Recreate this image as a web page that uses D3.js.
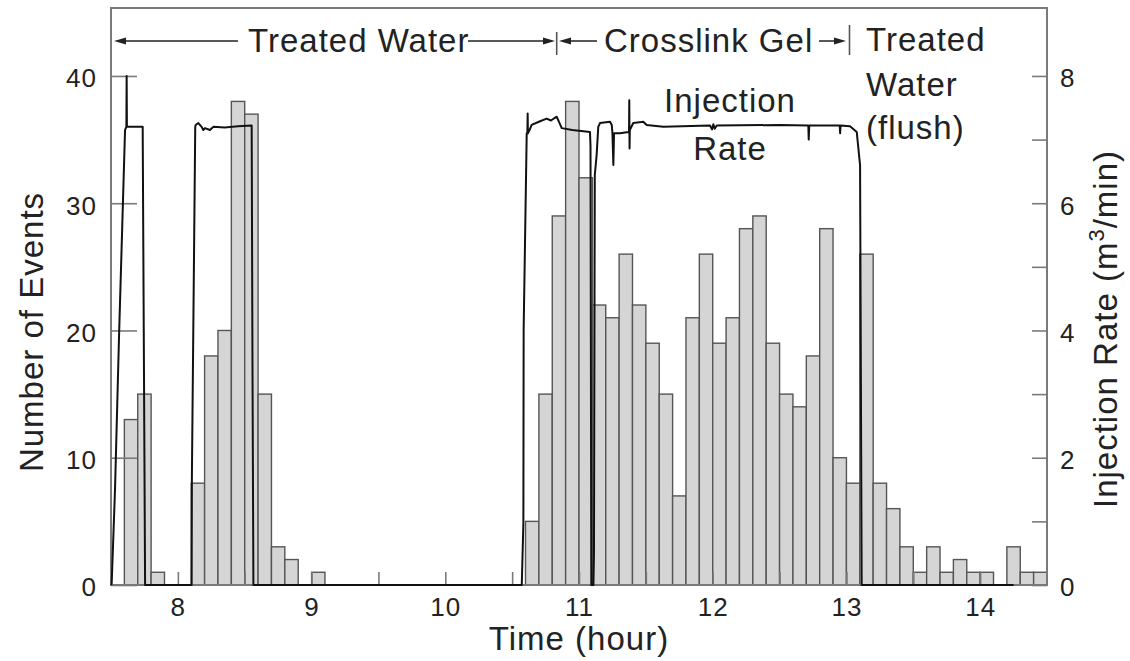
<!DOCTYPE html>
<html>
<head>
<meta charset="utf-8">
<script src="https://cdn.jsdelivr.net/npm/d3@7"></script>
<style>
  body { margin: 0; background: #fff; }
  svg { display: block; font-family: "Liberation Sans", Arial, Helvetica, sans-serif; }
</style>
</head>
<body>
<svg id="chart" width="1130" height="661"></svg>
<script>
// Microseismic event counts, one bar per 0.1-hour bin (bin start time, hours)
const binStart = [7.6, 7.7, 7.8,
  8.1, 8.2, 8.3, 8.4, 8.5, 8.6, 8.7, 8.8,
  9.0,
  10.6, 10.7, 10.8, 10.9,
  11.0, 11.1, 11.2, 11.3, 11.4, 11.5, 11.6, 11.7, 11.8, 11.9,
  12.0, 12.1, 12.2, 12.3, 12.4, 12.5, 12.6, 12.7, 12.8, 12.9,
  13.0, 13.1, 13.2, 13.3, 13.4, 13.5, 13.6, 13.7, 13.8, 13.9,
  14.0, 14.2, 14.3, 14.4];
const eventCount = [13, 15, 1,
  8, 18, 20, 38, 37, 15, 3, 2,
  1,
  5, 15, 29, 38,
  32, 22, 21, 26, 22, 19, 15, 7, 21, 26,
  19, 21, 28, 29, 19, 15, 14, 18, 28, 10,
  8, 26, 8, 6, 3, 1, 3, 1, 2, 1,
  1, 3, 1, 1];
const binWidth = 0.1;

// Injection rate record (time in hours, rate in m3/min)
const rateTime = [7.500, 7.505, 7.530, 7.560, 7.605, 7.615, 7.617, 7.619, 7.640, 7.737, 7.745, 7.755,
  8.103, 8.105, 8.130, 8.133, 8.153, 8.178, 8.190, 8.203, 8.240, 8.265, 8.350, 8.450, 8.552, 8.558, 8.565,
  10.572, 10.584, 10.586, 10.609, 10.614, 10.616, 10.618, 10.630, 10.646, 10.700, 10.758, 10.790, 10.833, 10.871, 10.950, 11.082, 11.086, 11.092,
  11.108, 11.112, 11.118, 11.132, 11.144, 11.157, 11.232, 11.245, 11.250, 11.257, 11.262, 11.307, 11.369, 11.374, 11.376, 11.378, 11.380, 11.406, 11.481, 11.506, 11.631,
  11.980, 11.995, 12.005, 12.015, 12.030, 12.503, 12.715, 12.718, 12.722, 12.950, 12.953, 12.956, 13.027, 13.077, 13.102, 13.114, 13.120, 14.250];
const rateValue = [0, 0.02, 1.5, 3.9, 7.15, 7.2, 8.0, 7.2, 7.2, 7.2, 4.0, 0,
  0, 1.7, 7.2, 7.23, 7.26, 7.2, 7.15, 7.18, 7.15, 7.2, 7.19, 7.21, 7.22, 3.5, 0,
  0, 0.97, 4.0, 7.1, 7.1, 7.41, 7.1, 7.15, 7.23, 7.28, 7.33, 7.30, 7.36, 7.18, 7.15, 7.12, 6.9, 0,
  0, 0.5, 6.44, 6.76, 7.2, 7.26, 7.28, 7.23, 7.1, 6.6, 7.1, 7.1, 7.12, 7.12, 7.62, 6.86, 7.15, 7.26, 7.28, 7.23, 7.2,
  7.22, 7.16, 7.24, 7.17, 7.22, 7.23, 7.22, 7.0, 7.22, 7.22, 7.1, 7.22, 7.21, 7.12, 6.6, 0, 0, 0];

// Axis ticks
const timeLabels = [8, 9, 10, 11, 12, 13, 14];
const timeTicks = [8, 8.5, 9, 9.5, 10, 10.5, 11, 11.5, 12, 12.5, 13, 13.5, 14];
const eventTicks = [0, 10, 20, 30, 40];
const rateTicks = [0, 1, 2, 3, 4, 5, 6, 7, 8];
const rateLabels = [0, 2, 4, 6, 8];

const plot = { left: 111, right: 1047, top: 8, bottom: 585 };
const eventTop = 45.34;
const rateTop = eventTop / 5;

const svg = d3.select("#chart");
const ink = "#222";
const frameColor = "#7a7a7a";

const x = d3.scaleLinear().domain([7.5, 14.5]).range([plot.left, plot.right]);
const yEvents = d3.scaleLinear().domain([0, eventTop]).range([plot.bottom, plot.top]);
const yRate = d3.scaleLinear().domain([0, rateTop]).range([plot.bottom, plot.top]);

// Histogram bars
const bins = binStart.map((t, i) => ({ t, n: eventCount[i] }));
svg.append("g")
  .selectAll("rect")
  .data(bins)
  .join("rect")
  .attr("x", d => x(d.t))
  .attr("width", d => x(d.t + binWidth) - x(d.t))
  .attr("y", d => yEvents(d.n))
  .attr("height", d => yEvents(0) - yEvents(d.n))
  .attr("fill", "#d5d5d5")
  .attr("stroke", "#555")
  .attr("stroke-width", 1.4);

// Frame
svg.append("rect")
  .attr("x", plot.left).attr("y", plot.top)
  .attr("width", plot.right - plot.left).attr("height", plot.bottom - plot.top)
  .attr("fill", "none").attr("stroke", frameColor).attr("stroke-width", 2);

// Axes
function styleAxis(g) {
  g.select(".domain").remove();
  g.selectAll(".tick line").attr("stroke", frameColor).attr("stroke-width", 1.6);
  g.selectAll(".tick text")
    .attr("fill", ink)
    .style("font-size", "26px")
    .style("letter-spacing", "1px");
}

svg.append("g")
  .attr("transform", `translate(0,${plot.bottom})`)
  .call(d3.axisBottom(x).tickValues(timeTicks).tickSize(-13).tickPadding(13)
    .tickFormat(d => timeLabels.includes(d) ? d : ""))
  .call(styleAxis);

svg.append("g")
  .attr("transform", `translate(${plot.left},0)`)
  .call(d3.axisLeft(yEvents).tickValues(eventTicks).tickSize(-26).tickPadding(14))
  .call(styleAxis)
  .call(g => g.selectAll(".tick text").attr("dy", "0.42em"));

svg.append("g")
  .attr("transform", `translate(${plot.right},0)`)
  .call(d3.axisRight(yRate).tickValues(rateTicks).tickSize(-15).tickPadding(13)
    .tickFormat(d => rateLabels.includes(d) ? d : ""))
  .call(styleAxis)
  .call(g => g.selectAll(".tick text").attr("dy", "0.42em"));

// Injection rate line
const rate = rateTime.map((t, i) => ({ t, v: rateValue[i] }));
svg.append("path")
  .datum(rate)
  .attr("fill", "none")
  .attr("stroke", "#111")
  .attr("stroke-width", 2)
  .attr("stroke-linejoin", "round")
  .attr("d", d3.line().x(d => x(d.t)).y(d => yRate(d.v)));

// Text helpers
function label(txt, px, py, opts = {}) {
  return svg.append("text")
    .attr("x", px).attr("y", py)
    .attr("fill", ink)
    .attr("text-anchor", opts.anchor || "start")
    .style("font-size", (opts.size || 33) + "px")
    .style("letter-spacing", "1px")
    .text(txt);
}

function arrow(x1, x2, yy) {
  // shaft from x1 to tip x2 with a small filled head
  const dir = Math.sign(x2 - x1);
  svg.append("line")
    .attr("x1", x1).attr("x2", x2 - dir * 6).attr("y1", yy).attr("y2", yy)
    .attr("stroke", ink).attr("stroke-width", 1.5);
  svg.append("path")
    .attr("d", `M${x2},${yy} L${x2 - dir * 12},${yy - 3.5} L${x2 - dir * 12},${yy + 3.5} Z`)
    .attr("fill", ink);
}

function bar(xx, y1, y2) {
  svg.append("line")
    .attr("x1", xx).attr("x2", xx).attr("y1", y1).attr("y2", y2)
    .attr("stroke", "#555").attr("stroke-width", 1.6);
}

// Stage annotations along the top
arrow(238, 114, 41);
label("Treated Water", 248, 51.5);
arrow(468, 555, 41);
bar(556.7, 32, 55);
arrow(597, 559, 41);
label("Crosslink Gel", 604, 51.5);
arrow(819, 846, 41);
bar(849.5, 25, 55);
label("Treated", 866, 51);
label("Water", 866, 95.5);
label("(flush)", 866, 139);

label("Injection", 730, 111.5, { anchor: "middle" });
label("Rate", 730, 160, { anchor: "middle" });

// Axis titles
label("Time (hour)", 579, 650, { anchor: "middle" });

svg.append("text")
  .attr("transform", "translate(43,332) rotate(-90)")
  .attr("text-anchor", "middle")
  .attr("fill", ink)
  .style("font-size", "33px")
  .style("letter-spacing", "1px")
  .text("Number of Events");

const rt = svg.append("text")
  .attr("transform", "translate(1117,329) rotate(-90)")
  .attr("text-anchor", "middle")
  .attr("fill", ink)
  .style("font-size", "33px")
  .style("letter-spacing", "1px");
rt.append("tspan").text("Injection Rate (m");
rt.append("tspan").attr("dy", -13).style("font-size", "22px").text("3");
rt.append("tspan").attr("dy", 13).text("/min)");
</script>
</body>
</html>
